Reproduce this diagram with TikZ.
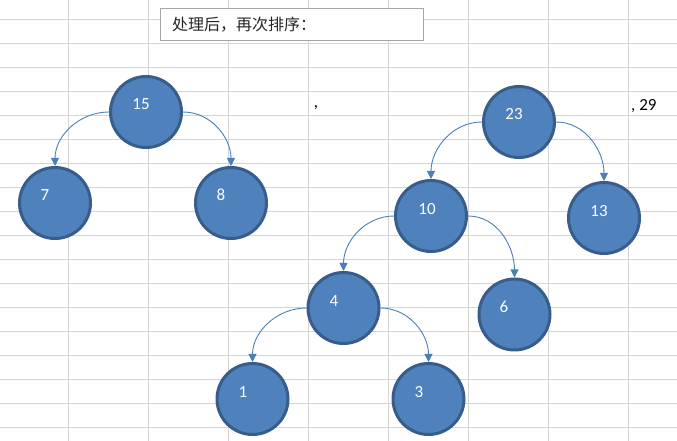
\documentclass[tikz,border=0pt]{standalone}
\usepackage{fontspec}
\setmainfont{Carlito}
\newfontfamily\cjk{Noto Sans CJK SC}
\usetikzlibrary{arrows.meta}
\definecolor{gridc}{HTML}{D4D4D4}
\definecolor{nodefill}{HTML}{4F81BD}
\definecolor{nodeline}{HTML}{385D8A}
\definecolor{edgec}{HTML}{4A7EBB}
\definecolor{boxline}{HTML}{A6A6A6}
\tikzset{
  gridline/.style={draw=gridc, line width=1pt},
  circ/.style={circle, fill=nodefill, draw=nodeline, line width=3pt, minimum size=71pt, inner sep=0pt},
  num/.style={text=white, font=\fontsize{17}{20}\selectfont, inner sep=0pt},
  edge/.style={draw=edgec, line width=0.9pt, -{Triangle[width=8pt,length=8pt]}},
  plain/.style={text=black, font=\fontsize{17}{20}\selectfont, inner sep=0pt},
  titlebox/.style={draw=boxline, fill=white, line width=0.8pt, minimum width=263pt, minimum height=32pt, inner sep=0pt}
}
\begin{document}
\begin{tikzpicture}[x=1pt,y=1pt]
\useasboundingbox (0,0) rectangle (677,441);
\fill[white] (0,0) rectangle (677,441);
% grid
\foreach \gx in {68,148,...,628} {\draw[gridline] (\gx,0) -- (\gx,441);}
\foreach \gy in {20,44,...,428} {\draw[gridline] (0,441-\gy) -- (677,441-\gy);}
% title box
\node[titlebox] (title) at (291.5,417) {};
\node[anchor=west, inner sep=0pt, font=\cjk\fontsize{16}{18}\selectfont, text=black!85] (titletext) at (172,416) {处理后，再次排序：};
% stray texts
\node[plain] (comma1) at (316,333) {,};
\node[plain, anchor=west] (c29) at (631,335) {, 29};
% nodes
\node[circ] (n15) at (146,329) {};
\node[circ] (n7) at (55,238) {};
\node[circ] (n8) at (231,238) {};
\node[circ] (n23) at (519,319) {};
\node[circ] (n10) at (431,225) {};
\node[circ] (n13) at (604,223) {};
\node[circ] (n4) at (343.5,133) {};
\node[circ] (n6) at (514.5,126.5) {};
\node[circ] (n1) at (252.5,42) {};
\node[circ] (n3) at (428.5,42) {};
% labels
\node[num] (t15) at (141,337) {15};
\node[num] (t7) at (45,246) {7};
\node[num] (t8) at (221,246) {8};
\node[num] (t23) at (514,327) {23};
\node[num] (t10) at (427,232) {10};
\node[num] (t13) at (599,230) {13};
\node[num] (t4) at (334,140) {4};
\node[num] (t6) at (504,134) {6};
\node[num] (t1) at (243,49) {1};
\node[num] (t3) at (419,49) {3};
% edges
\draw[edge] (n15.west) to[out=180,in=90] (n7.north);
\draw[edge] (n15.east) to[out=0,in=90] (n8.north);
\draw[edge] (n23.west) to[out=180,in=90] (n10.north);
\draw[edge] (n23.east) to[out=0,in=90] (n13.north);
\draw[edge] (n10.west) to[out=180,in=90] (n4.north);
\draw[edge] (n10.east) to[out=0,in=90] (n6.north);
\draw[edge] (n4.west) to[out=180,in=90] (n1.north);
\draw[edge] (n4.east) to[out=0,in=90] (n3.north);
\end{tikzpicture}
\end{document}
